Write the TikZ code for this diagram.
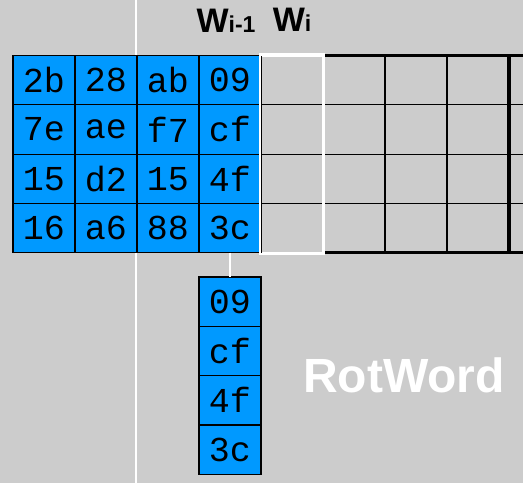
\documentclass[tikz,border=0pt]{standalone}
\usepackage{fontspec}
\setmainfont{Liberation Sans}
\setmonofont{Liberation Mono}
\usetikzlibrary{positioning}
\definecolor{bggray}{RGB}{204,204,204}
\definecolor{cellblue}{RGB}{0,153,255}
\tikzset{
  cell/.style={draw=black, fill=cellblue, line width=1.2pt, inner sep=0pt, outer sep=0pt,
    minimum width=62pt, minimum height=49.3pt, font=\ttfamily\fontsize{35}{35}\selectfont},
  lbl/.style={inner sep=0pt, font=\bfseries\fontsize{34}{34}\selectfont},
  guide/.style={white, line width=2pt}
}
\begin{document}
\begin{tikzpicture}[x=1pt, y=-1pt]
      \fill[bggray] (0,0) rectangle (523,483);
      \useasboundingbox (0,0) rectangle (523,483);
      \draw[guide] (135.5,0) -- (135.5,483);
      % empty key schedule columns
      \begin{scope}[black]
        \foreach \y in {104.8,154.1,203.4} \draw[line width=1.2pt] (261,\y) -- (523,\y);
        \foreach \x in {385,447} \draw[line width=1.2pt] (\x,55.5) -- (\x,252.7);
        \draw[line width=2.5pt] (323,55.5) -- (523,55.5);
        \draw[line width=2.5pt] (323,252.7) -- (523,252.7);
        \draw[line width=4pt] (509,55.5) -- (509,252.7);
      \end{scope}
      \node[draw=white, line width=2.2pt, minimum width=62pt, minimum height=197.2pt, inner sep=0pt] (wi) at (292,154.1) {};
      % cipher key words
      \foreach \words [count=\r] in {{2b,28,ab,09},{7e,ae,f7,cf},{15,d2,15,4f},{16,a6,88,3c}}
        \foreach \v [count=\c] in \words
          \node[cell] (s-\r-\c) at ({62*\c-18}, {49.3*\r+30.85}) {\v};
      \draw[draw=white, line width=2.2pt] (wi.north west) rectangle (wi.south east);
      % rotated word
      \node[cell, below=24.3pt of s-4-4] (r-1) {09};
      \node[cell, below=0pt of r-1] (r-2) {cf};
      \node[cell, below=0pt of r-2] (r-3) {4f};
      \node[cell, below=0pt of r-3] (r-4) {3c};
      \draw[guide] (s-4-4.south) -- (r-1.north);
      \node[lbl, above=23pt of s-1-4, xshift=-4pt] (wprev) {W{\fontsize{23}{23}\selectfont i-1}};
      \node[lbl, above=23pt of wi] (wcur) {W{\fontsize{23}{23}\selectfont i}};
      \node[anchor=base, text=white, font=\bfseries\fontsize{48}{48}\selectfont] (rot) at (404,392) {RotWord};
    \end{tikzpicture}
\end{document}
